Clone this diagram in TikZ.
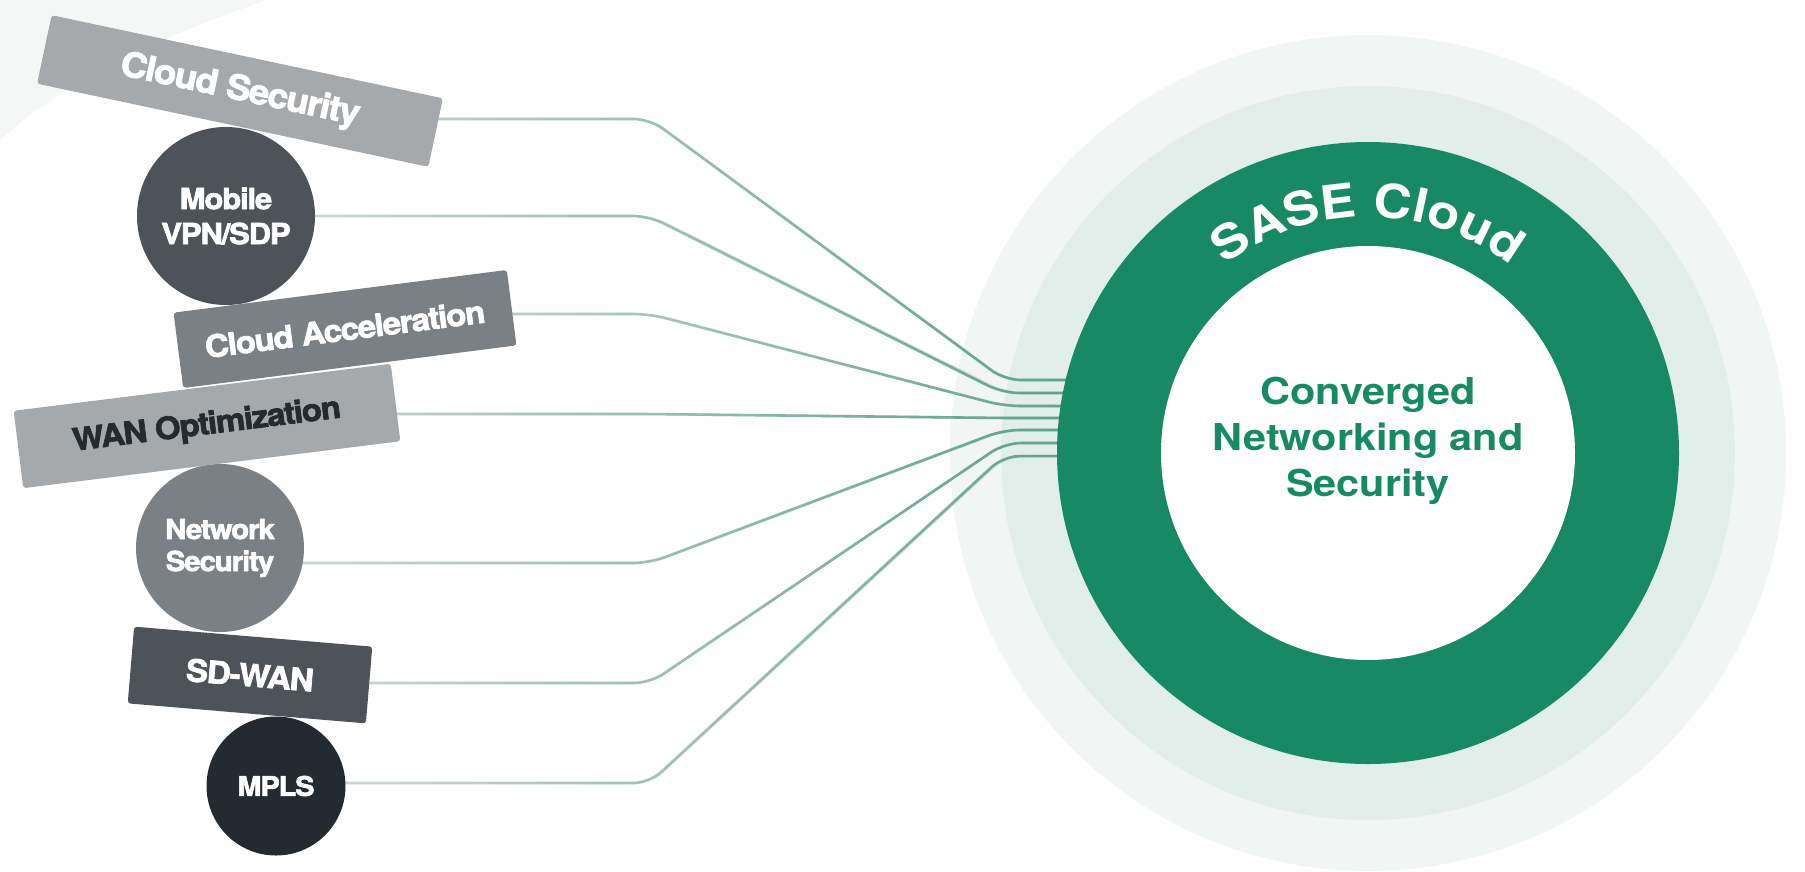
\documentclass[tikz,border=0pt]{standalone}
\usepackage{fontspec}
\setmainfont{TeX Gyre Heros}
\newfontfamily\widesans{TeX Gyre Heros}[FakeStretch=1.12]
\newfontfamily\heavysans{TeX Gyre Heros}[FakeStretch=1.07, FakeBold=2.2, LetterSpace=-4]
\usepackage{tikz}
\usetikzlibrary{calc,fadings,decorations.text}
\definecolor{haze}{HTML}{F4F7F6}
\definecolor{ringout}{HTML}{F1F6F4}
\definecolor{ringmid}{HTML}{E2EEE9}
\definecolor{sasegreen}{HTML}{178A65}
\definecolor{greyA}{HTML}{A6A9AC}
\definecolor{greyB}{HTML}{7B8085}
\definecolor{greyC}{HTML}{4D5359}
\definecolor{ink}{HTML}{232B31}
\definecolor{linkgrey}{HTML}{C9D5D0}
\definecolor{linkgreen}{HTML}{3F9777}
\pgfdeclarelayer{rings}
\pgfdeclarelayer{links}
\pgfsetlayers{rings,links,main}
\pgfdeclarehorizontalshading{linkramp}{100bp}{color(0bp)=(black); color(30bp)=(black); color(70bp)=(white); color(100bp)=(white)}
\pgfdeclarefading{linkfade}{\pgfuseshading{linkramp}}
\newcommand\saseFont{\widesans\bfseries\fontsize{47}{47}\selectfont}
\tikzset{
  tag/.style={rectangle, rounded corners=3pt, inner sep=0pt, text=white, font=\heavysans\bfseries\fontsize{#1}{#1}\selectfont},
  badge/.style args={#1/#2}{circle, inner sep=0pt, text=white, align=center, font=\heavysans\bfseries\fontsize{#1}{#2}\selectfont},
  link/.style={draw=linkgrey, line width=2.6pt, rounded corners=16pt},
  glow/.style={draw=linkgreen, line width=2.6pt, rounded corners=16pt, path fading=linkfade},
}

\begin{document}
\begin{tikzpicture}[x=1pt, y=-1pt]
  \useasboundingbox (0,0) rectangle (1805,871);
  \coordinate (hub) at (1368,453);
  \begin{pgfonlayer}{rings}
    \fill[white] (0,0) rectangle (1805,871);
    \fill[haze] (0,0) -- (267,0) .. controls (150,40) and (60,85) .. (0,140) -- cycle;
    \fill[ringout] (hub) circle (418);
    \fill[ringmid] (hub) circle (367);
  \end{pgfonlayer}

  \node[circle, fill=sasegreen, minimum size=622, inner sep=0pt] (sase) at (hub) {};
  \node[circle, fill=white, minimum size=414, inner sep=0pt] (core) at (hub) {};
  \node[text=sasegreen, align=center, font=\widesans\bfseries\fontsize{37}{46}\selectfont] (coretxt) at ($(hub)+(0,-12)$) {Converged\\Networking and\\Security};
  \path[decorate, decoration={text along path, text={|\saseFont|SASE Cloud}, text align=center, text color=white}]
    ($(hub)+(-170:236)$) arc[start angle=-170, end angle=-10, radius=236];

  \node[badge=29/35, fill=greyC, minimum size=178] (mobile) at (226,216) {Mobile\\VPN/SDP};
  \node[badge=27.5/32, fill=greyB, minimum size=168] (netsec) at (220,548) {Network\\Security};
  \node[badge=27/27, fill=ink, minimum size=139] (mpls) at (276,786) {MPLS};
  \node[tag=34.5, fill=greyA, minimum width=400, minimum height=70, rotate=-12] (cloudsec) at (240,91) {Cloud Security};
  \node[tag=31, fill=greyB, minimum width=336, minimum height=76, rotate=7.3] (cloudacc) at (345,329) {Cloud Acceleration};
  \node[tag=31, fill=greyA, text=ink, minimum width=380, minimum height=78, rotate=7.1] (wan) at (207,426) {WAN Optimization};
  \node[tag=31, fill=greyC, minimum width=239, minimum height=77, rotate=-4.8] (sdwan) at (250,675) {SD-WAN};

  \begin{pgfonlayer}{links}
    \foreach \src/\ys/\ye [count=\i] in {cloudsec/119/380, mobile/216/393, cloudacc/314/406, wan/414/418, netsec/563/430, sdwan/683/443, mpls/783/456}{
      \coordinate (bend\i) at (650,\ys);
      \coordinate (dock\i) at (1005,\ye);
      \draw[link] (\src.center |- bend\i) -- (bend\i) -- (dock\i) -- (dock\i -| sase.center);
      \draw[glow] (\src.center |- bend\i) -- (bend\i) -- (dock\i) -- (dock\i -| sase.center);
    }
  \end{pgfonlayer}
\end{tikzpicture}
\end{document}
